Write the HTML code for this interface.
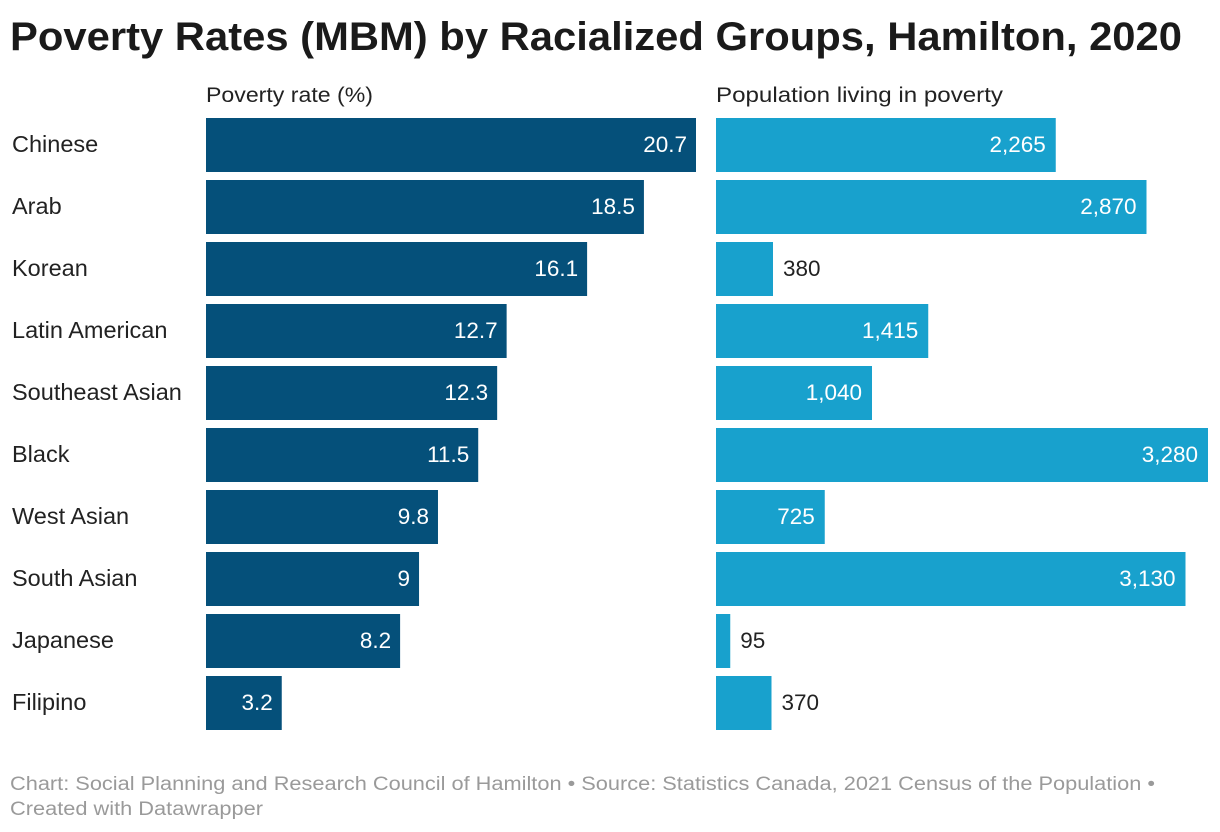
<!DOCTYPE html>
<html><head><meta charset="utf-8"><style>
html,body{margin:0;padding:0;background:#fff;}
svg{display:block;font-family:"Liberation Sans",sans-serif;}
</style></head><body>
<svg id="chart" width="1220" height="832">
<text x="10" y="50" font-size="40" font-weight="bold" fill="#1a1a1a" textLength="1172" lengthAdjust="spacingAndGlyphs">Poverty Rates (MBM) by Racialized Groups, Hamilton, 2020</text>
<text x="206" y="102" font-size="21" fill="#222" textLength="167" lengthAdjust="spacingAndGlyphs">Poverty rate (%)</text>
<text x="716" y="102" font-size="21" fill="#222" textLength="287" lengthAdjust="spacingAndGlyphs">Population living in poverty</text>
<g id="rows"></g>
<text x="10" y="790" font-size="19" fill="#9a9a9a" textLength="1145" lengthAdjust="spacingAndGlyphs">Chart: Social Planning and Research Council of Hamilton • Source: Statistics Canada, 2021 Census of the Population •</text>
<text x="10" y="815" font-size="19" fill="#9a9a9a" textLength="253" lengthAdjust="spacingAndGlyphs">Created with Datawrapper</text>
</svg>
<script>
const categories=["Chinese","Arab","Korean","Latin American","Southeast Asian","Black","West Asian","South Asian","Japanese","Filipino"];
const rates=[20.7,18.5,16.1,12.7,12.3,11.5,9.8,9,8.2,3.2];
const populations=[2265,2870,380,1415,1040,3280,725,3130,95,370];
const NS="http://www.w3.org/2000/svg";
const g=document.getElementById('rows');
const xRate=v=>v/20.7*490;
const xPop=v=>v/3280*492;
function el(t,a){const e=document.createElementNS(NS,t);for(const k in a)e.setAttribute(k,a[k]);return e;}
categories.forEach((c,i)=>{
  const y=118+i*62;
  const lab=el('text',{x:12,y:y+34,'font-size':23.5,fill:'#222'});
  lab.textContent=c;
  
  
  g.appendChild(lab);
  const w1=xRate(rates[i]);
  const b1=el('rect',{x:206,y:y,width:w1,height:54,fill:'#05507a'});
  
  
  g.appendChild(b1);
  const in1=w1>60;
  const t1=el('text',{x:in1?206+w1-9:206+w1+9,y:y+34,'font-size':22.5,fill:in1?'#fff':'#222','text-anchor':in1?'end':'start'});
  t1.textContent=String(rates[i]);
  
  
  g.appendChild(t1);
  const w2=xPop(populations[i]);
  const b2=el('rect',{x:716,y:y,width:w2,height:54,fill:'#18a1cd'});
  
  
  g.appendChild(b2);
  const in2=w2>80;
  const t2=el('text',{x:in2?716+w2-10:716+w2+10,y:y+34,'font-size':22.5,fill:in2?'#fff':'#222','text-anchor':in2?'end':'start'});
  t2.textContent=populations[i].toLocaleString('en-US');
  
  
  g.appendChild(t2);
});
</script>
</body></html>
